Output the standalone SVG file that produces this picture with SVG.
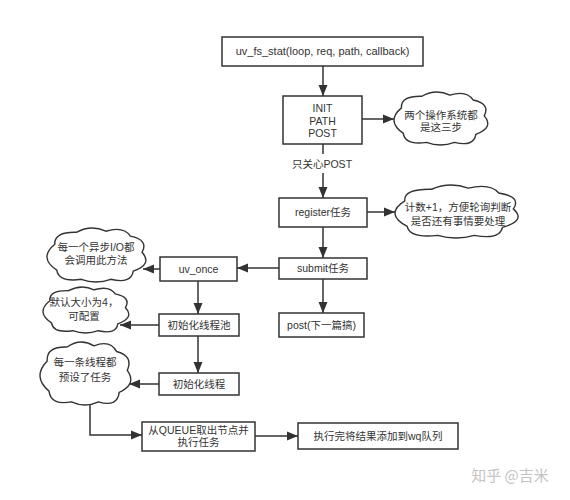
<svg xmlns="http://www.w3.org/2000/svg" xmlns:xlink="http://www.w3.org/1999/xlink" width="570" height="500" viewBox="0 0 570 500">
<style>
.box{fill:#fff;stroke:#333;stroke-width:1.5}
.cloud{fill:#fff;stroke:#333;stroke-width:1.4;vector-effect:non-scaling-stroke}
.ln{fill:none;stroke:#333;stroke-width:1.5}
text{font-family:"Liberation Sans","Noto Sans CJK SC",sans-serif;font-size:10.5px;fill:#333;text-anchor:middle}
.wm{font-family:"Noto Sans CJK SC",sans-serif;font-size:15px;fill:#c4c4c4}
</style>
<defs>
<marker id="ah" markerUnits="userSpaceOnUse" markerWidth="12" markerHeight="10" refX="11" refY="5" orient="auto">
<path d="M0,0.5 L11,5 L0,9.5 Z" fill="#333"/>
</marker>
<path id="cloudShape" class="cloud" d="M8,30 Q7,7 30,8 Q45,-7 60,6 Q78,-4 85,15 Q104,22 97,45 Q108,67 88,80 Q86,104 65,95 Q50,105 35,95 Q12,101 10,78 Q-9,55 8,30 Z"/>
</defs>
<rect width="570" height="500" fill="#fff"/>

<g id="connectors">
<line class="ln" x1="323" y1="66" x2="323" y2="96" marker-end="url(#ah)"/>
<line class="ln" x1="362" y1="119" x2="394" y2="119" marker-end="url(#ah)"/>
<line class="ln" x1="323" y1="144" x2="323" y2="154"/>
<line class="ln" x1="323" y1="173" x2="323" y2="198" marker-end="url(#ah)"/>
<line class="ln" x1="367" y1="212" x2="395" y2="212" marker-end="url(#ah)"/>
<line class="ln" x1="323" y1="227" x2="323" y2="258" marker-end="url(#ah)"/>
<line class="ln" x1="323" y1="279" x2="323" y2="313" marker-end="url(#ah)"/>
<line class="ln" x1="279" y1="268" x2="237" y2="268" marker-end="url(#ah)"/>
<line class="ln" x1="160" y1="269" x2="143" y2="269" marker-end="url(#ah)"/>
<line class="ln" x1="198" y1="281" x2="198" y2="314" marker-end="url(#ah)"/>
<line class="ln" x1="159" y1="325" x2="120" y2="325" marker-end="url(#ah)"/>
<line class="ln" x1="198" y1="336" x2="198" y2="373" marker-end="url(#ah)"/>
<line class="ln" x1="159" y1="384" x2="129" y2="384" marker-end="url(#ah)"/>
<polyline class="ln" points="90,404 90,435 142,435" marker-end="url(#ah)"/>
<line class="ln" x1="255" y1="436" x2="298" y2="436" marker-end="url(#ah)"/>
<text x="322" y="168">只关心POST</text>
</g>

<g id="n_uvfsstat">
<rect class="box" x="222" y="37" width="201" height="29"/>
<text x="322.5" y="55" style="font-size:11px">uv_fs_stat(loop, req, path, callback)</text>
</g>
<g id="n_init">
<rect class="box" x="283" y="96" width="79" height="48"/>
<text x="322.5" y="112">INIT</text>
<text x="322.5" y="124.5">PATH</text>
<text x="322.5" y="137">POST</text>
</g>
<g id="c_os">
<use xlink:href="#cloudShape" transform="translate(394,92) scale(0.93,0.53)"/>
<text x="441" y="119">两个操作系统都</text>
<text x="441" y="131">是这三步</text>
</g>
<g id="n_register">
<rect class="box" x="279" y="198" width="88" height="29"/>
<text x="323" y="216">register任务</text>
</g>
<g id="c_count">
<use xlink:href="#cloudShape" transform="translate(395,185) scale(1.22,0.53)"/>
<text x="458" y="211">计数+1，方便轮询判断</text>
<text x="458" y="225">是否还有事情要处理</text>
</g>
<g id="n_submit">
<rect class="box" x="279" y="258" width="88" height="21"/>
<text x="323" y="272">submit任务</text>
</g>
<g id="n_post">
<rect class="box" x="279" y="313" width="85" height="24"/>
<text x="321.5" y="329">post(下一篇搞)</text>
</g>
<g id="n_uvonce">
<rect class="box" x="160" y="257" width="77" height="24"/>
<text x="198.5" y="273">uv_once</text>
</g>
<g id="c_async">
<use xlink:href="#cloudShape" transform="translate(47,228) scale(0.98,0.54)"/>
<text x="96" y="251">每一个异步I/O都</text>
<text x="96" y="264">会调用此方法</text>
</g>
<g id="n_pool">
<rect class="box" x="159" y="314" width="80" height="22"/>
<text x="199" y="329">初始化线程池</text>
</g>
<g id="c_size">
<use xlink:href="#cloudShape" transform="translate(43,287) scale(0.85,0.46)"/>
<text x="84" y="306">默认大小为4，</text>
<text x="84" y="320">可配置</text>
</g>
<g id="n_thread">
<rect class="box" x="159" y="373" width="80" height="22"/>
<text x="199" y="388">初始化线程</text>
</g>
<g id="c_task">
<use xlink:href="#cloudShape" transform="translate(40,342) scale(0.9,0.63)"/>
<text x="85" y="366">每一条线程都</text>
<text x="85" y="381">预设了任务</text>
</g>
<g id="n_queue">
<rect class="box" x="142" y="422" width="113" height="29"/>
<text x="198.5" y="434">从QUEUE取出节点并</text>
<text x="198.5" y="446">执行任务</text>
</g>
<g id="n_done">
<rect class="box" x="298" y="423" width="160" height="26"/>
<text x="378" y="440">执行完将结果添加到wq队列</text>
</g>
<text class="wm" x="510" y="481">知乎 @吉米</text>
</svg>
